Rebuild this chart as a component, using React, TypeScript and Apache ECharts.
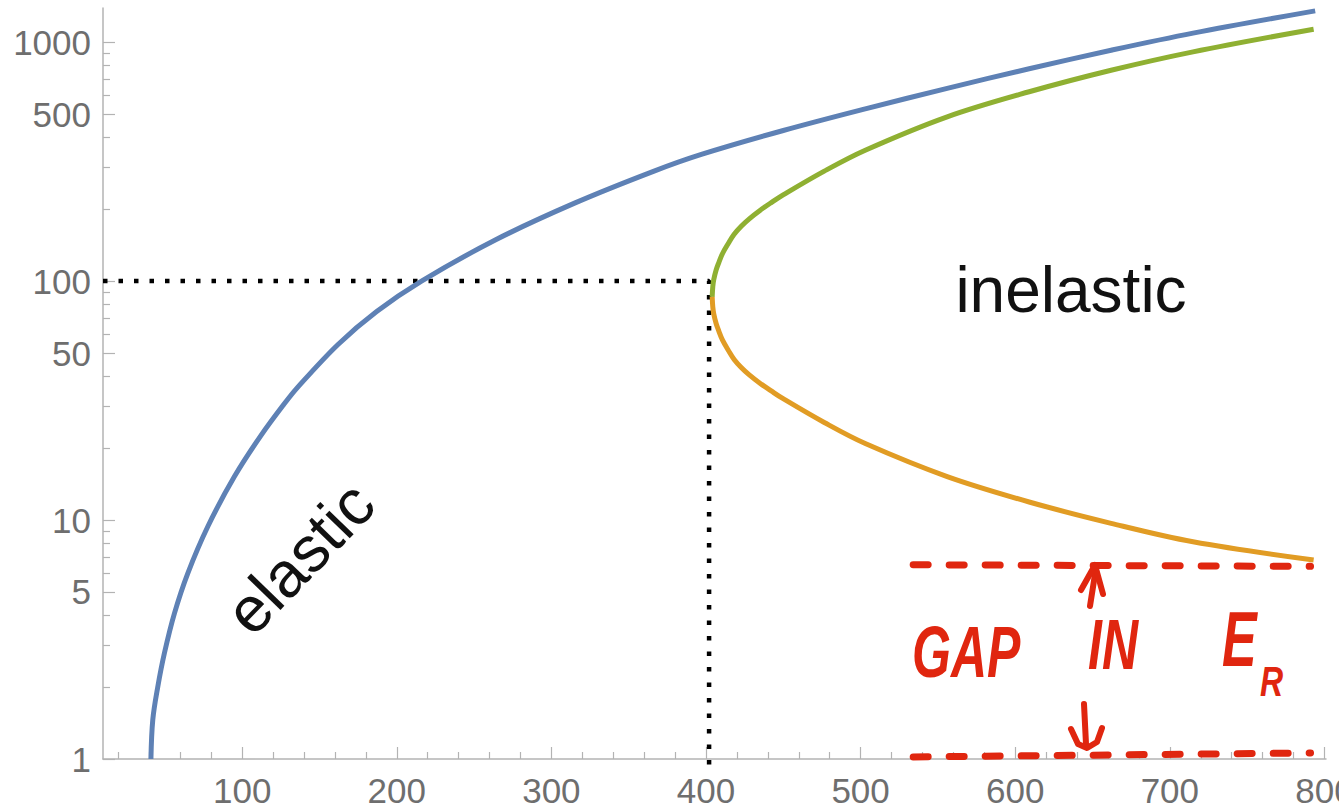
import React, { useEffect, useRef } from "react";
import * as echarts from "echarts";

// ---- axis ticks ----
const xMajorTicks = [100, 200, 300, 400, 500, 600, 700, 800];
const xMinorTicks = [20, 40, 60, 80, 120, 140, 160, 180, 220, 240, 260, 280, 320, 340, 360, 380, 420, 440, 460, 480, 520, 540, 560, 580, 620, 640, 660, 680, 720, 740, 760, 780];
const yMajorTicks = [1, 5, 10, 50, 100, 500, 1000];
const yMinorTicks = [2, 3, 4, 6, 7, 8, 9, 20, 30, 40, 60, 70, 80, 90, 200, 300, 400, 600, 700, 800, 900];

// ---- series (x, E) ----
const elastic: [number, number][] = [
  [41, 1], [42.2, 1.46], [45.4, 2.0], [49.7, 2.77], [56.2, 4.07], [64.9, 6.0], [77.8, 9.4],
  [95, 15.2], [112, 22.5], [127, 30.5], [136, 36], [162, 54.3], [187, 74.6], [216, 100],
  [264, 149], [315, 212], [366, 288], [397, 339], [450, 427], [503, 526], [556, 641],
  [609, 774], [662, 925], [715, 1091], [794, 1352],
];
const inelasticUpper: [number, number][] = [
  [404, 86], [404.4, 94.9], [405, 101.3], [406.6, 111.5], [408.3, 119.6], [410.7, 130.5],
  [414.4, 143.7], [418.2, 157.1], [422.8, 169.7], [428, 182.3], [435.1, 198.1], [442.2, 213.1],
  [449.9, 229.5], [476.5, 288.6], [503, 353], [556, 487], [609, 620], [662, 763], [715, 911],
  [793, 1133],
];
const inelasticLower: [number, number][] = [
  [404, 86], [404.4, 77.9], [405, 73], [406.6, 66.3], [408.3, 61.8], [410.7, 56.6],
  [414.4, 51.4], [418.2, 47], [422.8, 43.5], [428, 40.5], [435.1, 37.3], [442.2, 34.7],
  [449.9, 32.2], [476.5, 25.6], [503, 20.9], [556, 15.2], [609, 11.9], [662, 9.69],
  [715, 8.11], [793, 6.8],
];
const threshold: [number, number][] = [[10, 100], [402, 100], [402, 0.92]];
const gapTop: [number, number][] = [[534, 6.5], [791, 6.4]];
const gapBottom: [number, number][] = [[534, 1.02], [791, 1.06]];

const BLUE = "#5E81B5";
const ORANGE = "#E19C24";
const GREEN = "#8FB032";
const RED = "#E0260F";
const AXIS = "#b3b3b3";
const LABEL = "#6e6e6e";
const FONT = "'Liberation Sans', Arial, Helvetica, sans-serif";

export default function App() {
  const ref = useRef<HTMLDivElement>(null);
  useEffect(() => {
    if (!ref.current) return;
    const chart = echarts.init(ref.current, undefined, { renderer: "svg" });
    const fmt = (v: number) => String(Math.round(v));
    const xBase = {
      type: "value" as const,
      min: 10,
      max: 801,
      position: "bottom" as const,
      offset: 0,
      splitLine: { show: false },
    };
    const yBase = {
      type: "log" as const,
      logBase: 10,
      min: 1,
      max: 1390,
      position: "left" as const,
      offset: 0,
      splitLine: { show: false },
      minorTick: { show: false },
    };
    const redText = (text: string, x: number, y: number, size: number, sy: number) => ({
      type: "text",
      x,
      y,
      scaleY: sy,
      z: 100,
      style: {
        text,
        fill: RED,
        fontSize: size,
        fontFamily: FONT,
        fontWeight: "bold",
        fontStyle: "italic",
        verticalAlign: "bottom",
        align: "left",
      },
    });
    const stroke = (points: number[][]) => ({
      type: "polyline",
      z: 100,
      shape: { points },
      style: { stroke: RED, lineWidth: 6, fill: null, lineCap: "round", lineJoin: "round" },
    });
    const curve = (name: string, data: [number, number][], color: string) => ({
      type: "line",
      name,
      data,
      symbol: "none",
      smooth: 0.35,
      z: 3,
      lineStyle: { color, width: 5 },
    });
    const gap = (name: string, data: [number, number][]) => ({
      type: "line",
      name,
      data,
      symbol: "none",
      clip: false,
      z: 4,
      lineStyle: { color: RED, width: 7, type: [15, 21], cap: "round" },
    });
    chart.setOption({
      animation: false,
      backgroundColor: "#ffffff",
      grid: { left: 103, top: 8, right: 13, bottom: 52, containLabel: false, outerBoundsMode: "none" },
      xAxis: [
        {
          ...xBase,
          axisLine: { show: true, lineStyle: { color: AXIS, width: 1.5 } },
          axisTick: { show: true, inside: true, length: 12, customValues: xMajorTicks, lineStyle: { color: AXIS, width: 1.2 } },
          axisLabel: { show: true, customValues: xMajorTicks, formatter: fmt, color: LABEL, fontSize: 35, fontFamily: FONT, margin: 14 },
        },
        {
          ...xBase,
          axisLine: { show: false },
          axisTick: { show: true, inside: true, length: 7, customValues: xMinorTicks, lineStyle: { color: AXIS, width: 1.2 } },
          axisLabel: { show: false },
        },
      ],
      yAxis: [
        {
          ...yBase,
          axisLine: { show: true, lineStyle: { color: AXIS, width: 1.5 } },
          axisTick: { show: true, inside: true, length: 12, customValues: yMajorTicks, lineStyle: { color: AXIS, width: 1.2 } },
          axisLabel: { show: true, customValues: yMajorTicks, formatter: fmt, color: LABEL, fontSize: 35, fontFamily: FONT, margin: 12 },
        },
        {
          ...yBase,
          axisLine: { show: false },
          axisTick: { show: true, inside: true, length: 7, customValues: yMinorTicks, lineStyle: { color: AXIS, width: 1.2 } },
          axisLabel: { show: false },
        },
      ],
      series: [
        {
          type: "line",
          name: "threshold",
          data: threshold,
          symbol: "none",
          clip: false,
          z: 1,
          lineStyle: { color: "#000", width: 4.5, type: [4.5, 11], cap: "butt" },
        },
        curve("elastic", elastic, BLUE),
        curve("inelastic +", inelasticUpper, GREEN),
        curve("inelastic -", inelasticLower, ORANGE),
        gap("gap top", gapTop),
        gap("gap bottom", gapBottom),
      ],
      graphic: [
        {
          type: "text",
          x: 1071,
          y: 290,
          z: 100,
          style: { text: "inelastic", fill: "#111", fontSize: 64, fontFamily: FONT, align: "center", verticalAlign: "middle" },
        },
        {
          type: "text",
          x: 300,
          y: 558,
          rotation: (46 * Math.PI) / 180,
          z: 100,
          style: { text: "elastic", fill: "#111", fontSize: 64, fontFamily: FONT, align: "center", verticalAlign: "middle" },
        },
        redText("GAP", 912, 688, 50, 1.45),
        redText("IN", 1088, 680, 50, 1.4),
        redText("E", 1222, 678, 52, 1.5),
        redText("R", 1260, 702, 32, 1.3),
        stroke([[1090, 606], [1096, 568]]),
        stroke([[1081, 590], [1095, 565], [1103, 594]]),
        stroke([[1084, 704], [1086, 744]]),
        stroke([[1071, 729], [1078, 744], [1087, 748], [1097, 742], [1102, 728]]),
      ],
    });
    return () => chart.dispose();
  }, []);
  return <div ref={ref} style={{ position: "fixed", left: 0, top: 0, width: 1339, height: 811, background: "#fff" }} />;
}
